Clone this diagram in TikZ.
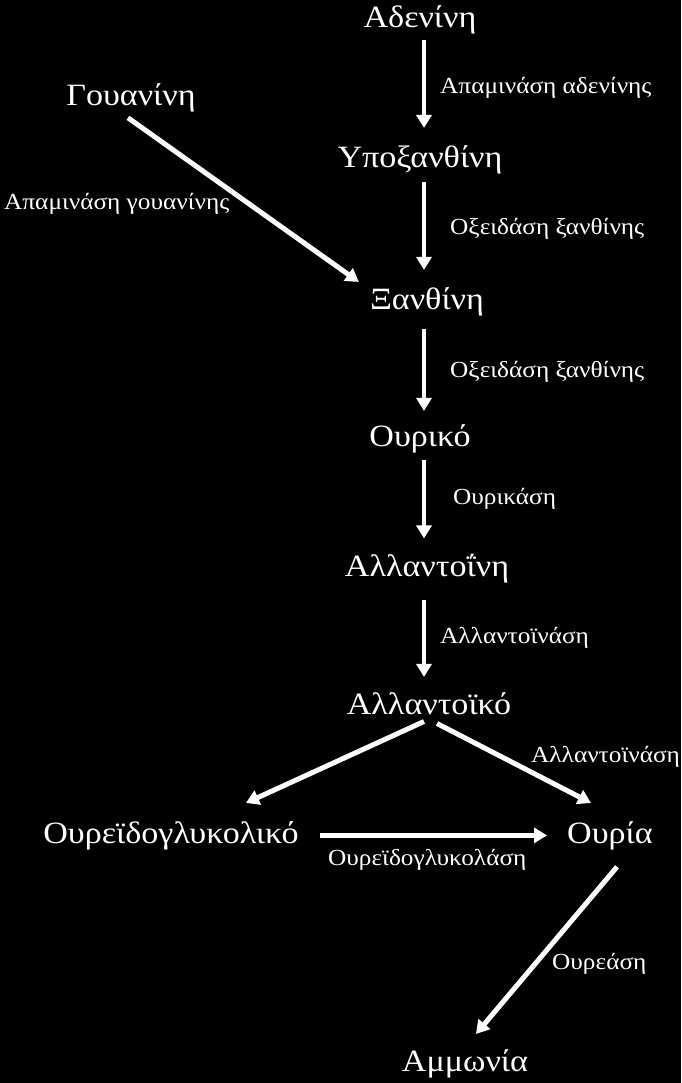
\documentclass[tikz,border=0pt]{standalone}
\usepackage{fontspec}
\setmainfont[FakeStretch=1.1]{Liberation Serif}
\usetikzlibrary{arrows.meta}

\begin{document}
\begin{tikzpicture}[x=1pt,y=-1pt,
  compound/.style={text=white,font=\fontsize{31}{31}\selectfont,anchor=base,inner sep=5pt},
  enzyme/.style={text=white,font=\fontsize{23}{23}\selectfont,anchor=base west,inner sep=0pt},
  conv/.style={draw=white,line width=5pt,-{Triangle[width=15pt,length=13pt]}},
  vconv/.style={conv,line width=4pt,shorten >=10pt}]

\fill[black] (0,0) rectangle (681,1083);
\useasboundingbox (0,0) rectangle (681,1083);

% compounds
\node[compound] (aden) at (420,28) {Αδενίνη};
\node[compound] (guan) at (131,106) {Γουανίνη};
\node[compound] (hypo) at (420,168) {Υποξανθίνη};
\node[compound] (xanth) at (427,309) {Ξανθίνη};
\node[compound] (uric) at (420,446) {Ουρικό};
\node[compound] (allan) at (427,576) {Αλλαντοΐνη};
\node[compound] (allac) at (429,714) {Αλλαντοϊκό};
\node[compound] (ureid) at (171,843) {Ουρεϊδογλυκολικό};
\node[compound] (urea) at (610,843) {Ουρία};
\node[compound] (ammon) at (465,1071) {Αμμωνία};
\coordinate (axis) at (424,0);

% enzymes
\node[enzyme] (deamA) at (440,94) {Απαμινάση αδενίνης};
\node[enzyme] (deamG) at (4,210) {Απαμινάση γουανίνης};
\node[enzyme] (oxidA) at (450,235) {Οξειδάση ξανθίνης};
\node[enzyme] (oxidB) at (450,377) {Οξειδάση ξανθίνης};
\node[enzyme] (urase) at (453,504) {Ουρικάση};
\node[enzyme] (allnA) at (440,643) {Αλλαντοϊνάση};
\node[enzyme] (allnB) at (531,762) {Αλλαντοϊνάση};
\node[enzyme] (ugase) at (328,865) {Ουρεϊδογλυκολάση};
\node[enzyme] (ureas) at (552,969) {Ουρεάση};

\draw[vconv,shorten >=13pt] (aden.south -| axis) -- (hypo.north -| axis);
\draw[vconv,shorten <=2pt,shorten >=12pt] (hypo.south -| axis) -- (xanth.north -| axis);
\draw[vconv,shorten <=8pt,shorten >=8pt] (xanth.south -| axis) -- (uric.north -| axis);
\draw[vconv,shorten <=2pt] (uric.south -| axis) -- (allan.north -| axis);
\draw[vconv,shorten <=12pt] (allan.south -| axis) -- (allac.north -| axis);
\draw[conv] ([xshift=-3pt]guan.south) -- ([xshift=-6pt]xanth.north west);
\draw[conv] ([shift={(-5,2)}]allac.south) -- ([shift={(75,-13)}]ureid.north);
\draw[conv] ([shift={(8,4)}]allac.south) -- ([shift={(-19,-13)}]urea.north);
\draw[conv,shorten <=16pt,shorten >=15pt] (ureid) -- (urea);
\draw[conv] ([shift={(7,12)}]urea.south) -- ([shift={(11,-10)}]ammon.north);

\end{tikzpicture}
\end{document}
